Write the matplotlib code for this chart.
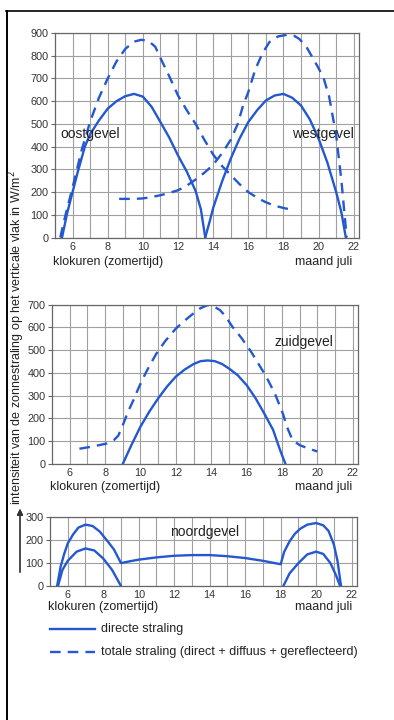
import matplotlib.pyplot as plt
from matplotlib.lines import Line2D

plt.rcParams['font.family'] = ['Liberation Sans', 'DejaVu Sans']

BLUE = "#2458d0"
GRID = "#a0a0a0"

# oostgevel / westgevel (W/m2 against clock hour, summer time)
oost_direct_h = [5.4, 5.7, 6.0, 6.3, 6.7, 7.0, 7.5, 8.0, 8.5, 9.0, 9.5, 10.0, 10.5, 11.0, 11.5, 12.0,
                 12.5, 13.0, 13.3, 13.55]
oost_direct_v = [0, 110, 200, 290, 400, 455, 515, 567, 600, 622, 632, 620, 575, 508, 440, 361,
                 290, 205, 125, 0]
west_direct_h = [13.55, 13.8, 14.0, 14.5, 15.0, 15.5, 16.0, 16.5, 17.0, 17.5, 18.0, 18.5, 19.0, 19.5,
                 20.0, 20.5, 21.0, 21.3, 21.55]
west_direct_v = [0, 70, 130, 245, 347, 435, 508, 560, 603, 625, 632, 615, 581, 520,
                 435, 330, 200, 110, 0]
oost_totaal_h = [5.3, 5.6, 6.0, 6.5, 7.0, 7.5, 8.0, 8.5, 9.0, 9.5, 9.9, 10.3, 10.7, 11.0, 11.5, 12.0,
                 12.5, 13.0, 13.5, 14.0, 14.5, 15.0, 15.5, 16.0, 16.5, 17.0, 17.5, 18.0, 18.6]
oost_totaal_v = [0, 100, 220, 380, 510, 615, 700, 775, 830, 862, 870, 866, 840, 790, 710, 625,
                 560, 500, 430, 365, 315, 275, 235, 200, 175, 155, 140, 130, 120]
west_totaal_h = [8.65, 9.5, 10.0, 10.5, 11.0, 11.5, 12.0, 12.5, 13.0, 13.5, 14.0, 14.5, 15.0, 15.4,
                 15.7, 16.0, 16.4, 16.8, 17.2, 17.7, 18.2, 18.6, 18.9, 19.3, 19.7, 20.0, 20.3, 20.6,
                 21.0, 21.3, 21.6]
west_totaal_v = [170, 170, 172, 178, 186, 196, 208, 228, 255, 285, 320, 370, 430, 500,
                 580, 640, 740, 810, 860, 885, 892, 888, 874, 840, 786, 745, 698, 620,
                 450, 250, 0]

# zuidgevel
zuid_direct_h = [9.0, 9.5, 10.0, 10.5, 11.0, 11.5, 12.0, 12.5, 13.0, 13.4, 13.8, 14.2, 14.6, 15.0,
                 15.5, 16.0, 16.5, 17.0, 17.5, 17.9, 18.2]
zuid_direct_v = [0, 85, 164, 230, 288, 340, 384, 415, 439, 452, 455, 452, 440, 420,
                 390, 347, 290, 222, 150, 60, 0]
zuid_totaal_h = [6.55, 7.3, 8.1, 8.5, 8.75, 9.05, 9.3, 9.6, 9.9, 10.2, 10.5, 10.9, 11.4, 12.0, 12.5,
                 13.0, 13.4, 13.8, 14.1, 14.5, 14.8, 15.2, 15.7, 16.2, 16.6, 17.1, 17.6, 18.05, 18.3,
                 18.6, 19.0, 19.5, 20.0]
zuid_totaal_v = [67, 77, 90, 105, 125, 180, 230, 280, 335, 385, 430, 485, 540, 595, 630,
                 662, 685, 698, 695, 676, 650, 603, 555, 500, 450, 385, 310, 222, 160,
                 105, 83, 68, 55]

# noordgevel (all drawn solid in the original)
noord_buiten_h = [5.4, 5.6, 5.8, 6.0, 6.3, 6.6, 7.0, 7.4, 7.8, 8.2, 8.6, 9.0, 9.5, 10.0, 11.0, 12.0,
                  13.0, 14.0, 15.0, 16.0, 17.0, 18.0, 18.2, 18.5, 18.8, 19.1, 19.5, 20.0, 20.4,
                  20.7, 21.0, 21.2, 21.4]
noord_buiten_v = [0, 85, 140, 186, 225, 255, 268, 262, 238, 200, 160, 100, 108, 115, 125, 132,
                  135, 135, 130, 122, 110, 95, 150, 195, 228, 250, 268, 275, 265,
                  240, 180, 110, 0]
noord_links_h = [5.45, 5.7, 6.0, 6.5, 7.0, 7.5, 8.0, 8.5, 9.0]
noord_links_v = [0, 70, 110, 150, 164, 155, 120, 70, 0]
noord_rechts_h = [18.15, 18.5, 19.0, 19.5, 20.0, 20.4, 20.8, 21.1, 21.35]
noord_rechts_v = [0, 55, 100, 138, 150, 140, 100, 50, 0]

hour_ticks = [6, 8, 10, 12, 14, 16, 18, 20, 22]

fig = plt.figure(figsize=(3.94, 7.2), dpi=100)
W, H = 394, 720


def make_axes(left, right, top, bottom, ymax):
    ax = fig.add_axes([left / W, 1 - bottom / H, (right - left) / W, (bottom - top) / H])
    ax.set_xlim(5, 22.3)
    ax.set_ylim(0, ymax)
    ax.set_xticks(range(6, 23), minor=True)
    ax.set_xticks(hour_ticks)
    ax.set_yticks(range(0, ymax + 1, 100))
    ax.grid(True, which='both', color=GRID, lw=0.8)
    ax.set_axisbelow(True)
    for s in ax.spines.values():
        s.set_color("#666666")
        s.set_linewidth(0.9)
    ax.tick_params(axis='x', which='both', length=0, pad=3, labelsize=7.8, labelcolor="#333333")
    ax.tick_params(axis='y', length=3, width=0.8, color="#666666", pad=1.5, labelsize=7.8,
                   labelcolor="#333333")
    return ax


def xlabels(ax, y):
    fig.text(ax.get_position().x0 - 0.005, 1 - y / H, "klokuren (zomertijd)", fontsize=9, color="#222222",
             ha='left', va='center')
    fig.text(352 / W, 1 - y / H, "maand juli", fontsize=9, color="#222222", ha='right', va='center')


# top: oost- en westgevel
ax1 = make_axes(55, 359, 33, 237.5, 900)
ax1.plot(oost_direct_h, oost_direct_v, color=BLUE, lw=1.7)
ax1.plot(west_direct_h, west_direct_v, color=BLUE, lw=1.7)
ax1.plot(oost_totaal_h, oost_totaal_v, color=BLUE, lw=1.7, dashes=(4.5, 3))
ax1.plot(west_totaal_h, west_totaal_v, color=BLUE, lw=1.7, dashes=(4.5, 3))
ax1.text(5.3, 455, "oostgevel", fontsize=10, color="#222222", va='center', ha='left')
ax1.text(22.0, 455, "westgevel", fontsize=10, color="#222222", va='center', ha='right')
xlabels(ax1, 262)

# middle: zuidgevel
ax2 = make_axes(52, 358, 304.7, 464, 700)
ax2.plot(zuid_direct_h, zuid_direct_v, color=BLUE, lw=1.7)
ax2.plot(zuid_totaal_h, zuid_totaal_v, color=BLUE, lw=1.7, dashes=(4.5, 3))
ax2.text(17.6, 537, "zuidgevel", fontsize=10, color="#222222", va='center', ha='left')
xlabels(ax2, 487)

# bottom: noordgevel
ax3 = make_axes(50, 357, 517.3, 586, 300)
ax3.plot(noord_buiten_h, noord_buiten_v, color=BLUE, lw=1.7)
ax3.plot(noord_links_h, noord_links_v, color=BLUE, lw=1.7)
ax3.plot(noord_rechts_h, noord_rechts_v, color=BLUE, lw=1.7)
ax3.text(13.7, 237, "noordgevel", fontsize=10, color="#222222", va='center', ha='center')
xlabels(ax3, 607)

# legend drawn by hand below the last panel
fig.add_artist(Line2D([50 / W, 95 / W], [1 - 629 / H] * 2, color=BLUE, lw=1.7))
fig.add_artist(Line2D([50 / W, 95 / W], [1 - 652 / H] * 2, color=BLUE, lw=1.7, dashes=(4.5, 3)))
fig.text(101 / W, 1 - 629 / H, "directe straling", fontsize=9, color="#222222", va='center')
fig.text(101 / W, 1 - 652 / H, "totale straling (direct + diffuus + gereflecteerd)", fontsize=9,
         color="#222222", va='center')

# shared y label with arrow
fig.text(17 / W, 1 - 505 / H, "intensiteit van de zonnestraling op het verticale vlak in W/m$^2$",
         rotation=90, fontsize=9, color="#222222", ha='center', va='bottom')
fig.add_artist(plt.annotate("", xy=(20 / W, 1 - 506 / H), xytext=(20 / W, 1 - 575 / H),
                            xycoords='figure fraction',
                            arrowprops=dict(arrowstyle='-|>', color="#333333", lw=0.9,
                                            mutation_scale=9)))

# page frame from the scan
fig.add_artist(Line2D([6 / W, 1], [1 - 11 / H] * 2, color="black", lw=1.2))
fig.add_artist(Line2D([7 / W] * 2, [0, 1 - 11 / H], color="black", lw=1.4))

fig.savefig("out.png", dpi=100)
